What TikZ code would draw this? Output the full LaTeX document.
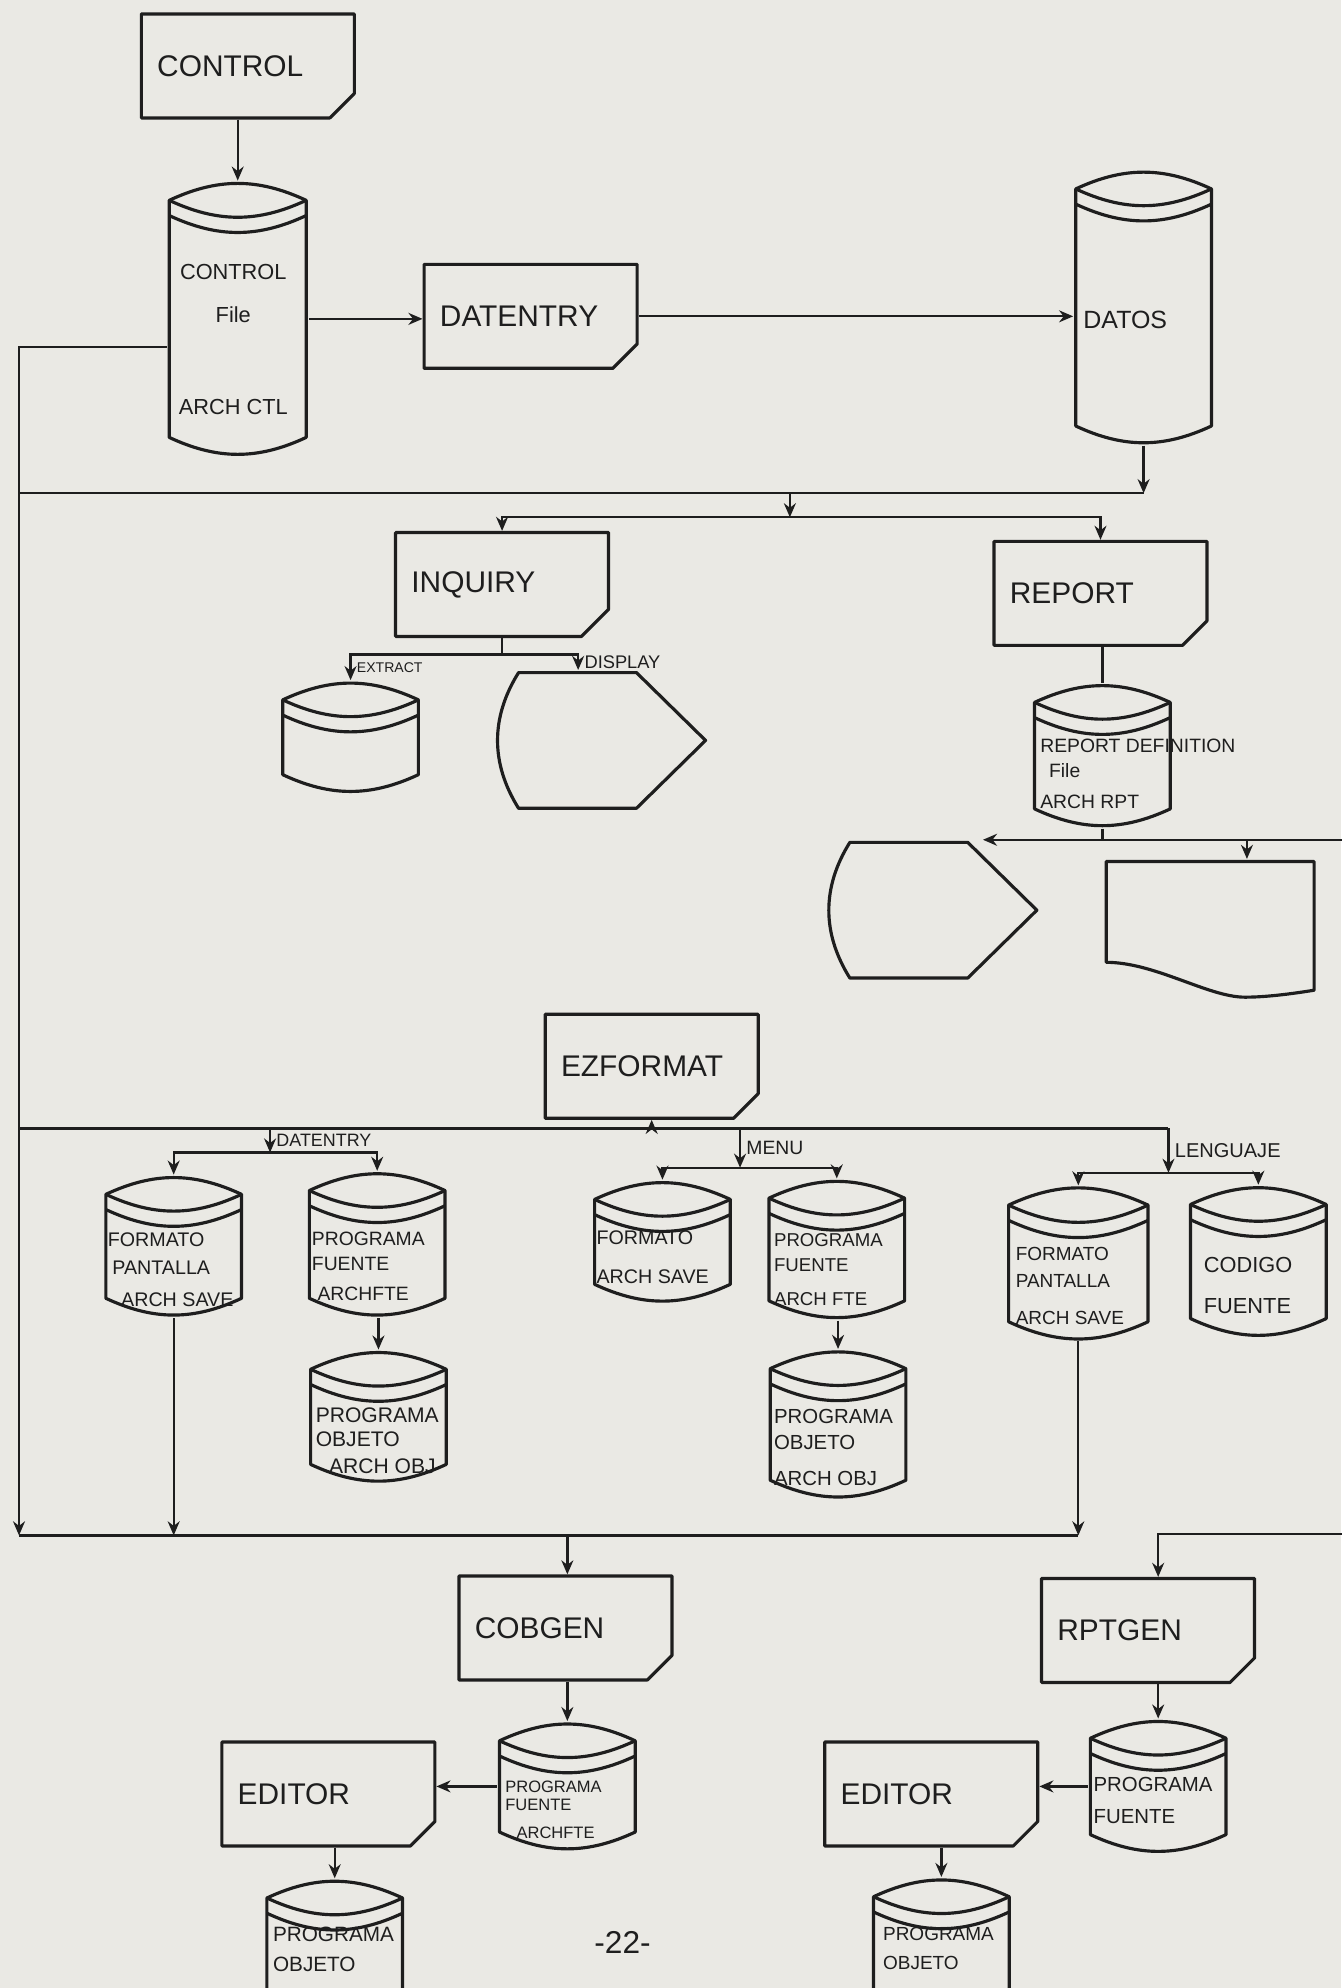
\documentclass[tikz,border=0pt]{standalone}
\usepackage{fontspec}
\setmainfont{Liberation Sans}
\usetikzlibrary{arrows.meta,shapes.misc}

\definecolor{paper}{RGB}{234,233,228}
\definecolor{ink}{RGB}{30,30,30}

\newlength{\pxl}
\setlength{\pxl}{0.012675cm}
\newcommand{\tsize}[2]{\fontsize{#1}{#2}\selectfont}

\tikzset{
    outline/.style={draw=ink, line width=0.9pt, line join=round},
    link/.style={draw=ink, line width=0.65pt},
    lbl/.style={inner sep=1.5pt, text=ink},
    dtext/.style={anchor=north west, inner sep=0pt, align=left, text=ink},
    proc/.style={chamfered rectangle, chamfered rectangle corners=south east,
        chamfered rectangle xsep=11\pxl, chamfered rectangle ysep=11\pxl,
        outline, minimum width=168\pxl, minimum height=82\pxl,
        text width=143\pxl, align=left, inner sep=0pt, text=ink,
        font=\tsize{8.5}{10}},
    disk/.style={rectangle, fill=paper, inner sep=0pt,
        minimum width=110\pxl, minimum height=112\pxl,
        path picture={
            \draw[outline]
                ([shift={(1.5\pxl,-15\pxl)}]path picture bounding box.north west) coordinate (dk-a)
                to[bend left=25] ([shift={(-1.5\pxl,-15\pxl)}]path picture bounding box.north east) coordinate (dk-b)
                -- ([shift={(-1.5\pxl,15\pxl)}]path picture bounding box.south east)
                to[bend left=25] ([shift={(1.5\pxl,15\pxl)}]path picture bounding box.south west)
                -- cycle;
            \draw[outline] (dk-a) to[bend right=25] (dk-b);
            \draw[outline] ([yshift=-12\pxl]dk-a) to[bend right=25] ([yshift=-12\pxl]dk-b);
        }},
    display/.style={rectangle, fill=paper, inner sep=0pt,
        minimum width=168\pxl, minimum height=110\pxl,
        path picture={
            \draw[outline]
                ([shift={(19\pxl,-1.5\pxl)}]path picture bounding box.north west) coordinate (dp-a)
                -- ([shift={(-56\pxl,-1.5\pxl)}]path picture bounding box.north east)
                -- ([xshift=-1.5\pxl]path picture bounding box.east)
                -- ([shift={(-56\pxl,1.5\pxl)}]path picture bounding box.south east)
                -- ([shift={(19\pxl,1.5\pxl)}]path picture bounding box.south west)
                to[bend left=32] (dp-a) -- cycle;
        }},
    doc/.style={rectangle, fill=paper, inner sep=0pt,
        minimum width=167\pxl, minimum height=110\pxl,
        path picture={
            \draw[outline]
                ([shift={(1.5\pxl,29\pxl)}]path picture bounding box.south west) coordinate (dc-a)
                -- ([shift={(1.5\pxl,-1.5\pxl)}]path picture bounding box.north west)
                -- ([shift={(-1.5\pxl,-1.5\pxl)}]path picture bounding box.north east)
                -- ([shift={(-1.5\pxl,7\pxl)}]path picture bounding box.south east)
                .. controls ([shift={(-20\pxl,4\pxl)}]path picture bounding box.south east)
                and ([shift={(-40\pxl,1.5\pxl)}]path picture bounding box.south east)
                .. ([shift={(-56\pxl,1.5\pxl)}]path picture bounding box.south east)
                .. controls ([shift={(-85\pxl,1.5\pxl)}]path picture bounding box.south east)
                and ([shift={(40\pxl,29\pxl)}]path picture bounding box.south west)
                .. (dc-a) -- cycle;
        }}
}

\begin{document}
\begin{tikzpicture}[x=0.012675cm, y=-0.012675cm, >={Stealth[length=4pt,width=3.4pt]}]
    \useasboundingbox (0,0) rectangle (1058,1568);
    \fill[paper] (0,0) rectangle (1058,1568);

    % programs
    \begin{scope}[every node/.style={proc}]
        \node (control)  at (195.5,52)    {CONTROL};
        \node (datentry) at (418.5,249.5) {DATENTRY};
        \node (inquiry)  at (396,461)     {INQUIRY};
        \node (report)   at (868,468)     {REPORT};
        \node (ezformat) at (514,841)     {EZFORMAT};
        \node (cobgen)   at (446,1284)    {COBGEN};
        \node (rptgen)   at (905.5,1286)  {RPTGEN};
        \node (editorA)  at (259,1415)    {EDITOR};
        \node (editorB)  at (734.5,1415)  {EDITOR};
    \end{scope}

    % files on disk
    \begin{scope}[every node/.style={disk}]
        \node[minimum width=111\pxl, minimum height=217\pxl] (ctlfile) at (187.5,251.5) {};
        \node[minimum height=217\pxl] (datos)   at (902,242.5)   {};
        \node[minimum height=89\pxl]  (extract) at (276.5,581.5) {};
        \node[minimum height=114\pxl] (rptdef)  at (869.5,596)   {};
        \node                         (fp1)     at (137,983)     {};
        \node[minimum height=115\pxl] (pf1)     at (297.5,981.5) {};
        \node[minimum height=97\pxl]  (fa)      at (522.5,979.5) {};
        \node[minimum height=111\pxl] (pf2)     at (660,985.5)   {};
        \node[minimum width=113\pxl, minimum height=122\pxl] (fp2) at (850.5,996.5) {};
        \node[minimum height=120\pxl] (cod)     at (992.5,995)   {};
        \node[minimum height=105\pxl] (po1)     at (298.5,1117.5) {};
        \node[minimum height=118\pxl] (po2)     at (661,1123.5)  {};
        \node[minimum height=102\pxl] (pf3)     at (447.5,1409)  {};
        \node[minimum height=106\pxl] (pf4)     at (913.5,1409)  {};
        \node[minimum height=108\pxl] (po3)     at (264,1536)    {};
        \node[minimum height=108\pxl] (po4)     at (742.5,1535)  {};
    \end{scope}

    % screens and the printed report
    \node[display] (disp1) at (474,584) {};
    \node[display] (disp2) at (735.3,717.9) {};
    \node[doc] (doc) at (954.5,733) {};

    % texts written on the disks
    \begin{scope}[every node/.style={dtext}]
        \node[anchor=north, align=center, font=\tsize{6.2}{12.4}] (ctlfile-t) at (184,207.8)
            {CONTROL\\File\\[13.7pt]ARCH CTL};
        \node[anchor=west, font=\tsize{7.1}{8.5}] (datos-t) at (854,252) {DATOS};
        \node[font=\tsize{5.5}{7}] (rptdef-t) at (820,582.5)
            {REPORT DEFINITION\\\hspace*{2.5pt}File\\[2pt]ARCH RPT};
        \node[font=\tsize{5.6}{8.15}] (fp1-t) at (84.5,971.4)
            {FORMATO\\\hspace*{1.3pt}PANTALLA\\[0.9pt]\hspace*{3.8pt}ARCH SAVE};
        \node[font=\tsize{5.5}{7.1}] (pf1-t) at (245.5,971.5)
            {PROGRAMA\\FUENTE\\[1.45pt]\hspace*{1.6pt}ARCHFTE};
        \node[font=\tsize{5.6}{11.1}] (fa-t) at (470,970.2) {FORMATO\\ARCH SAVE};
        \node[font=\tsize{5.3}{7}] (pf2-t) at (610,972.6)
            {PROGRAMA\\FUENTE\\[2.7pt]ARCH FTE};
        \node[font=\tsize{5.4}{7.6}] (fp2-t) at (800.6,983.5)
            {FORMATO\\PANTALLA\\[3pt]ARCH SAVE};
        \node[font=\tsize{6.2}{11.65}] (cod-t) at (949,991) {CODIGO\\FUENTE};
        \node[font=\tsize{6}{7}] (po1-t) at (248.5,1109.6)
            {PROGRAMA\\OBJETO\\[0.6pt]\hspace*{3.8pt}ARCH OBJ};
        \node[font=\tsize{5.8}{7.6}] (po2-t) at (610,1110.7)
            {PROGRAMA\\OBJETO\\[2.5pt]ARCH OBJ};
        \node[font=\tsize{4.7}{5.2}] (pf3-t) at (398,1404)
            {PROGRAMA\\FUENTE\\[2.6pt]\hspace*{3.2pt}ARCHFTE};
        \node[font=\tsize{5.8}{9}] (pf4-t) at (862,1401.2) {PROGRAMA\\FUENTE};
        \node[font=\tsize{5.9}{8.65}] (po3-t) at (214.8,1519) {PROGRAMA\\OBJETO};
        \node[font=\tsize{5.4}{8.1}] (po4-t) at (696,1519.9) {PROGRAMA\\OBJETO};
    \end{scope}

    \node[text=ink, font=\tsize{9}{10}] (pagenum) at (491,1532) {-22-};

    % junctions of the flow lines
    \coordinate (lft)  at (15,273.5);
    \coordinate (bus1) at (15,389);
    \coordinate (bus2) at (623,408);
    \coordinate (bus3) at (15,890);
    \coordinate (bus4) at (15,1211);
    \coordinate (rgt)  at (1064,1210);
    \coordinate (drop1) at (213,909);
    \coordinate (drop2) at (583.7,921);
    \coordinate (drop3) at (921.6,925);
    \coordinate (inqsplit) at ([yshift=-13\pxl]inquiry.south);
    \coordinate (rptsplit) at (rptdef.south |- disp2.north);

    \begin{scope}[every edge/.style={link}, every node/.style={lbl}]
        % control file and data entry
        \path[->] (ctlfile.north |- control.south) edge (ctlfile.north);
        \path[->] (ctlfile.east) edge (ctlfile.east -| datentry.west);
        \path[->] (datentry.east) edge (datentry.east -| datos.west);

        % trunk down the left side
        \draw[link,->] (ctlfile.west |- lft) -- (lft) -- (bus4);

        % DATOS to INQUIRY and REPORT
        \draw[link] (bus1) -- (datos.south |- bus1);
        \path[->] (datos.south) edge (datos.south |- bus1);
        \path[->] (bus2 |- bus1) edge (bus2);
        \draw[link,->] (bus2) -| (inquiry.north);
        \draw[link,->] (bus2) -| (report.north);

        % INQUIRY outputs
        \draw[link] (inquiry.south) -- (inqsplit);
        \draw[link,->] (inqsplit) -| (extract.north)
            node[pos=0.75, right, font=\tsize{4}{5}] {EXTRACT};
        \draw[link,->] (inqsplit) -| ([xshift=-18\pxl]disp1.north)
            node[pos=0.75, right, font=\tsize{5.2}{6}] {DISPLAY};

        % REPORT outputs
        \path (rptdef.north |- report.south) edge (rptdef.north);
        \draw[link] (rptdef.south) -- (rptsplit);
        \draw[link,->] (rptsplit) -- ([xshift=40\pxl]disp2.north);
        \draw[link,->] (rptsplit) -| ([xshift=29\pxl]doc.north);
        \draw[link,->] (rptsplit) -- (rptsplit -| rgt) -- (rgt) -| (pf4.north |- rptgen.north);

        % EZFORMAT and its files
        \draw[link] (bus3) -- (bus3 -| drop3);
        \path[->] (ezformat.south |- bus3) edge (ezformat.south);
        \draw[link,->] (drop1 |- bus3) -- (drop1)
            node[midway, right, font=\tsize{5.1}{6}] {DATENTRY};
        \draw[link,->] (drop1) -| (fp1.north);
        \draw[link,->] (drop1) -| (pf1.north);
        \draw[link,->] (drop2 |- bus3) -- (drop2)
            node[midway, right, font=\tsize{5.5}{6}] {MENU};
        \draw[link,->] (drop2) -| (fa.north);
        \draw[link,->] (drop2) -| (pf2.north);
        \draw[link,->] (drop3 |- bus3) -- (drop3)
            node[midway, right, font=\tsize{5.7}{6}] {LENGUAJE};
        \draw[link,->] (drop3) -| (fp2.north);
        \draw[link,->] (drop3) -| (cod.north);
        \path[->] (po1.north |- pf1.south) edge (po1.north);
        \path[->] (po2.north |- pf2.south) edge (po2.north);

        % generators
        \path[->] (fp1.south) edge (fp1.south |- bus4);
        \path[->] (fp2.south) edge (fp2.south |- bus4);
        \draw[link] (bus4) -- (fp2.south |- bus4);
        \path[->] (pf3.north |- bus4) edge (pf3.north |- cobgen.north);
        \path[->] (pf3.north |- cobgen.south) edge (pf3.north);
        \path[->] (pf3.west) edge (pf3.west -| editorA.east);
        \path[->] (po3.north |- editorA.south) edge (po3.north);
        \path[->] (pf4.north |- rptgen.south) edge (pf4.north);
        \path[->] (pf4.west) edge (pf4.west -| editorB.east);
        \path[->] (po4.north |- editorB.south) edge (po4.north);
    \end{scope}
\end{tikzpicture}
\end{document}
